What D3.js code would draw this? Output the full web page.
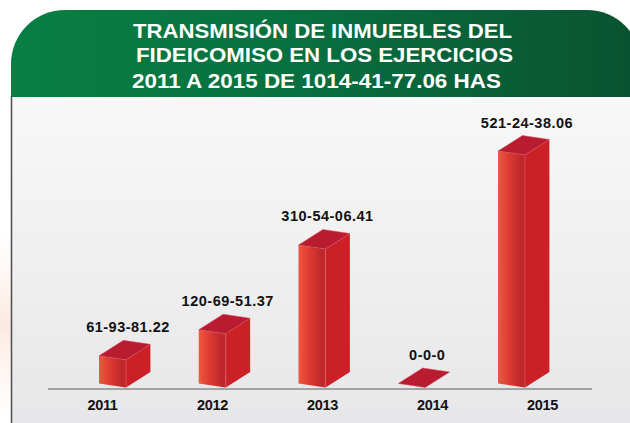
<!DOCTYPE html>
<html>
<head>
    <meta charset="utf-8">
    <title>Transmisión de inmuebles del fideicomiso</title>
    <script src="https://d3js.org/d3.v7.min.js"></script>
    <style type="text/css">
        html,
        body {
            margin: 0;
            padding: 0;
            background: #ffffff;
        }
        #chart {
            width: 630px;
            height: 423px;
            overflow: hidden;
        }
        .title {
            font-family: "Liberation Sans", Arial, sans-serif;
            font-weight: bold;
            font-size: 20px;
            fill: #ffffff;
        }
        .val {
            font-family: "Liberation Sans", Arial, sans-serif;
            font-weight: bold;
            font-size: 14.5px;
            letter-spacing: 0.5px;
            fill: #111111;
        }
        .year text {
            font-family: "Liberation Sans", Arial, sans-serif;
            font-weight: bold;
            font-size: 14.5px;
            letter-spacing: -0.3px;
            fill: #111111;
        }
    </style>
</head>
<body>
    <div id="chart"></div>
    <script type="text/javascript">
        // data (hectareas, "ha-a-ca" labels as printed)
        var years = ["2011", "2012", "2013", "2014", "2015"];
        var hectares = [61.938122, 120.695137, 310.540641, 0, 521.243806];
        var valueLabels = ["61-93-81.22", "120-69-51.37", "310-54-06.41", "0-0-0", "521-24-38.06"];
        var titleLines = [
            "TRANSMISIÓN DE INMUEBLES DEL",
            "FIDEICOMISO EN LOS EJERCICIOS",
            "2011 A 2015 DE 1014-41-77.06 HAS"
        ];

        var W = 630, H = 423;
        var svg = d3.select("#chart").append("svg")
            .attr("width", W)
            .attr("height", H);

        var defs = svg.append("defs");

        var gGreen = defs.append("linearGradient").attr("id", "green")
            .attr("x1", 0).attr("x2", 1).attr("y1", 0).attr("y2", 0);
        gGreen.append("stop").attr("offset", 0).attr("stop-color", "#087f42");
        gGreen.append("stop").attr("offset", 0.45).attr("stop-color", "#087040");
        gGreen.append("stop").attr("offset", 1).attr("stop-color", "#0a5231");

        var gPanel = defs.append("linearGradient").attr("id", "panel")
            .attr("x1", 0).attr("x2", 0).attr("y1", 0).attr("y2", 1);
        gPanel.append("stop").attr("offset", 0).attr("stop-color", "#f8f8f8");
        gPanel.append("stop").attr("offset", 1).attr("stop-color", "#e7e7e9");

        var gGlow = defs.append("linearGradient").attr("id", "glow")
            .attr("x1", 0).attr("x2", 0).attr("y1", 0).attr("y2", 1);
        gGlow.append("stop").attr("offset", 0).attr("stop-color", "#fdf2ec").attr("stop-opacity", 0);
        gGlow.append("stop").attr("offset", 0.5).attr("stop-color", "#fbe9e0").attr("stop-opacity", 1);
        gGlow.append("stop").attr("offset", 1).attr("stop-color", "#fdf2ec").attr("stop-opacity", 0);

        var gFront = defs.append("linearGradient").attr("id", "front")
            .attr("x1", 0).attr("x2", 1).attr("y1", 0).attr("y2", 0);
        gFront.append("stop").attr("offset", 0).attr("stop-color", "#f0573f");
        gFront.append("stop").attr("offset", 0.4).attr("stop-color", "#dc3b31");
        gFront.append("stop").attr("offset", 0.85).attr("stop-color", "#be272b");
        gFront.append("stop").attr("offset", 1).attr("stop-color", "#c2252a");

        // faint glow at left edge
        svg.append("rect")
            .attr("x", 0).attr("y", 230).attr("width", 11).attr("height", 190)
            .attr("fill", "url(#glow)");

        // panel
        svg.append("rect")
            .attr("x", 11).attr("y", 96).attr("width", W - 11).attr("height", H - 96)
            .attr("fill", "url(#panel)");
        svg.append("line")
            .attr("x1", 11.5).attr("x2", 11.5).attr("y1", 96).attr("y2", H)
            .attr("stroke", "#4d4d4d").attr("stroke-width", 1.5);

        // green header with rounded top corners
        var rad = 54, hTop = 10, hBot = 97, hLeft = 11, hRight = 641;
        var hp = d3.path();
        hp.moveTo(hLeft, hBot);
        hp.lineTo(hLeft, hTop + rad);
        hp.arcTo(hLeft, hTop, hLeft + rad, hTop, rad);
        hp.lineTo(hRight - rad, hTop);
        hp.arcTo(hRight, hTop, hRight, hTop + rad, rad);
        hp.lineTo(hRight, hBot);
        hp.closePath();
        svg.append("path").attr("d", hp.toString()).attr("fill", "url(#green)");

        var titleLen = [379, 377, 369];
        var titleX = [133, 136, 132];
        var titleY = [37.5, 62, 87.5];
        svg.selectAll("text.title")
            .data(titleLines)
            .enter().append("text")
            .attr("class", "title")
            .attr("x", function(d, i) { return titleX[i]; })
            .attr("y", function(d, i) { return titleY[i]; })
            .attr("textLength", function(d, i) { return titleLen[i]; })
            .attr("lengthAdjust", "spacingAndGlyphs")
            .text(function(d) { return d; });

        // scales
        var x = d3.scalePoint().domain(years).range([126, 525]);      // front-right edge of each box
        var xLab = d3.scalePoint().domain(years).range([102, 542]);   // year labels
        var y = d3.scaleLinear().domain([0, d3.max(hectares)]).range([0, 232.5]);

        var baseY = 387.5;
        var fw = 27, tilt = 4;       // front face width and slant
        var dx = 24.4, dy = -15.5;   // depth

        // baseline
        svg.append("line")
            .attr("x1", 48).attr("x2", 592).attr("y1", 389).attr("y2", 389)
            .attr("stroke", "#a2a2a2").attr("stroke-width", 2.2);

        var rows = years.map(function(d, i) {
            return { year: d, v: hectares[i], label: valueLabels[i] };
        });

        function pts(a) {
            return a.map(function(p) { return p[0] + "," + p[1]; }).join(" ");
        }

        var bars = svg.selectAll("g.bar")
            .data(rows)
            .enter().append("g")
            .attr("class", "bar");

        bars.each(function(d) {
            var g = d3.select(this);
            var xr = x(d.year), h = y(d.v);
            var fl = [xr - fw, baseY - tilt], fr = [xr, baseY];
            var flt = [fl[0], fl[1] - h], frt = [fr[0], fr[1] - h];
            var sb = [xr + dx, baseY + dy], st = [sb[0], sb[1] - h];
            var bt = [flt[0] + dx, flt[1] + dy];
            if (h > 0) {
                g.append("polygon").attr("points", pts([fl, fr, frt, flt]))
                    .attr("fill", "url(#front)");
                g.append("polygon").attr("points", pts([fr, sb, st, frt]))
                    .attr("fill", "#cc2027");
                g.append("line")
                    .attr("x1", frt[0]).attr("y1", frt[1]).attr("x2", fr[0]).attr("y2", fr[1])
                    .attr("stroke", "#e2646c").attr("stroke-width", 0.6);
            }
            g.append("polygon").attr("points", pts([flt, frt, st, bt]))
                .attr("fill", "#b91c30")
                .attr("stroke", "#d8505e").attr("stroke-width", 0.5);
        });

        svg.selectAll("text.val")
            .data(rows)
            .enter().append("text")
            .attr("class", "val")
            .attr("text-anchor", "middle")
            .attr("x", function(d) { return x(d.year) + 2; })
            .attr("y", function(d) { return baseY - tilt + dy - y(d.v) - 8; })
            .text(function(d) { return d.label; });

        // year axis
        var axis = d3.axisBottom(xLab).tickSize(0).tickPadding(0);
        var ax = svg.append("g")
            .attr("class", "year")
            .attr("transform", "translate(0,398.5)")
            .call(axis);
        ax.select(".domain").remove();
        ax.selectAll("text").attr("dy", "0.8em").attr("fill", "#111111");
    </script>
</body>
</html>
